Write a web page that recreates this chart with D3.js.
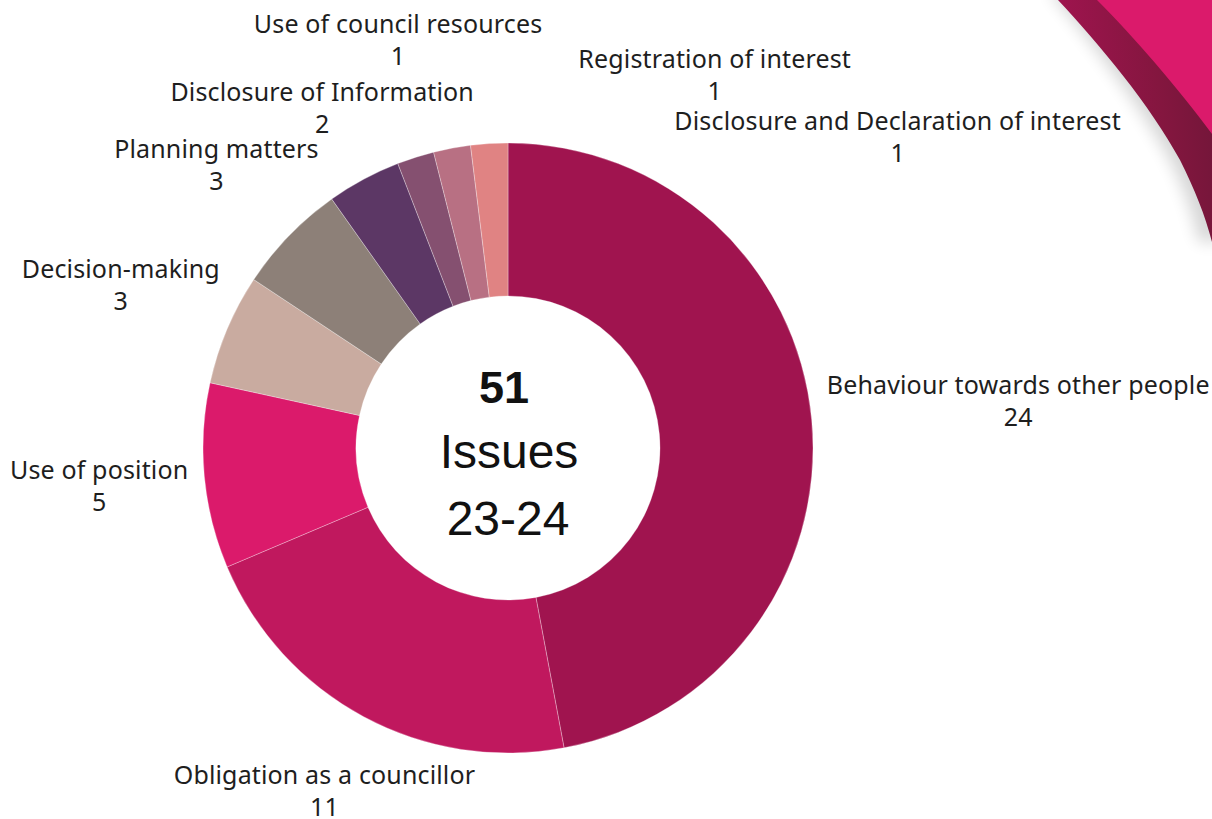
<!DOCTYPE html>
<html>
<head>
<meta charset="utf-8">
<script src="https://cdn.jsdelivr.net/npm/d3@7"></script>
<style>
  html, body { margin: 0; padding: 0; background: #fff; }
  svg { display: block; }
</style>
</head>
<body>
<div id="chart"></div>
<script>
// categories and counts, clockwise from 12 o'clock
const categories = [
  "Behaviour towards other people",
  "Obligation as a councillor",
  "Use of position",
  "Decision-making",
  "Planning matters",
  "Disclosure of Information",
  "Use of council resources",
  "Registration of interest",
  "Disclosure and Declaration of interest"
]
const counts = [24, 11, 5, 3, 3, 2, 1, 1, 1]
const colours = ["#a0144f", "#c0185e", "#db1a6b", "#c9aba0", "#8d8078", "#5c3765", "#855070", "#b87083", "#e08383"]
const centreLines = ["51", "Issues", "23-24"]

// label placement: distance from centre and angle nudge (deg) off the slice middle
const labelRadius = [513, 383, 410, 423, 411, 394, 429, 433, 503]
const labelShift = [-0.7, 0.4, 1.0, 0.8, 0.7, 0.1, 2.8, 39.1, 54.3]

const width = 1212
const height = 819
const cx = 508
const cy = 448
const outerR = 305
const innerR = 152

const svg = d3.select("#chart").append("svg")
  .attr("width", width)
  .attr("height", height)

// corner decoration
const defs = svg.append("defs")
const fold = defs.append("linearGradient")
  .attr("id", "fold")
  .attr("x1", "0").attr("y1", "0.2").attr("x2", "1").attr("y2", "0")
fold.append("stop").attr("offset", "0").attr("stop-color", "#a0144f")
fold.append("stop").attr("offset", "0.6").attr("stop-color", "#84163f")
fold.append("stop").attr("offset", "1").attr("stop-color", "#6f1638")
defs.append("filter").attr("id", "blur")
  .attr("x", "-50%").attr("y", "-50%").attr("width", "200%").attr("height", "200%")
  .append("feGaussianBlur").attr("stdDeviation", 8)

const corner = svg.append("g")
corner.append("path")
  .attr("d", "M1058,-10 C1100,40 1150,105 1180,160 C1195,190 1203,215 1209,242 L1230,242 L1230,-10 Z")
  .attr("fill", "#000")
  .attr("opacity", 0.16)
  .attr("filter", "url(#blur)")
  .attr("transform", "translate(-10,0)")
corner.append("path")
  .attr("d", "M1058,0 C1100,45 1150,105 1180,160 C1195,190 1205,215 1212,242 L1212,0 Z")
  .attr("fill", "url(#fold)")
corner.append("path")
  .attr("d", "M1097,0 C1135,38 1178,88 1212,134 L1212,0 Z")
  .attr("fill", "#db1a6b")

// donut
const slices = categories.map((c, i) => ({ name: c, value: counts[i], i }))
const pie = d3.pie().sort(null).value(d => d.value)
const arc = d3.arc().innerRadius(innerR).outerRadius(outerR)

const g = svg.append("g").attr("transform", `translate(${cx},${cy})`)
const arcs = pie(slices)

g.selectAll("path.slice")
  .data(arcs)
  .enter().append("path")
  .attr("class", "slice")
  .attr("d", arc)
  .attr("fill", d => colours[d.data.i])
  .attr("stroke", "#fff")
  .attr("stroke-opacity", 0.5)
  .attr("stroke-width", 0.6)

// outside labels
const labels = g.selectAll("g.label")
  .data(arcs)
  .enter().append("g")
  .attr("class", "label")
  .attr("transform", d => {
    const a = (d.startAngle + d.endAngle) / 2 + labelShift[d.data.i] * Math.PI / 180
    const r = labelRadius[d.data.i]
    return `translate(${r * Math.sin(a)},${-r * Math.cos(a)})`
  })
  .style("font-family", "'Noto Sans', sans-serif")
  .style("font-size", "25px")
  .style("letter-spacing", "0.15px")
  .attr("fill", "#1e1e1e")
  .attr("text-anchor", "middle")

labels.append("text").text(d => d.data.name)
labels.append("text").attr("y", 32).text(d => d.data.value)

// centre text
const centre = g.append("g")
  .attr("text-anchor", "middle")
  .style("font-family", "'Liberation Sans', Arial, sans-serif")
  .attr("fill", "#111")
centre.append("text").attr("y", -45).attr("x", -4).style("font-size", "45px").style("font-weight", "bold").text(centreLines[0])
centre.append("text").attr("y", 20).attr("x", 1).style("font-size", "48px").text(centreLines[1])
centre.append("text").attr("y", 87).style("font-size", "48px").text(centreLines[2])
</script>
</body>
</html>
